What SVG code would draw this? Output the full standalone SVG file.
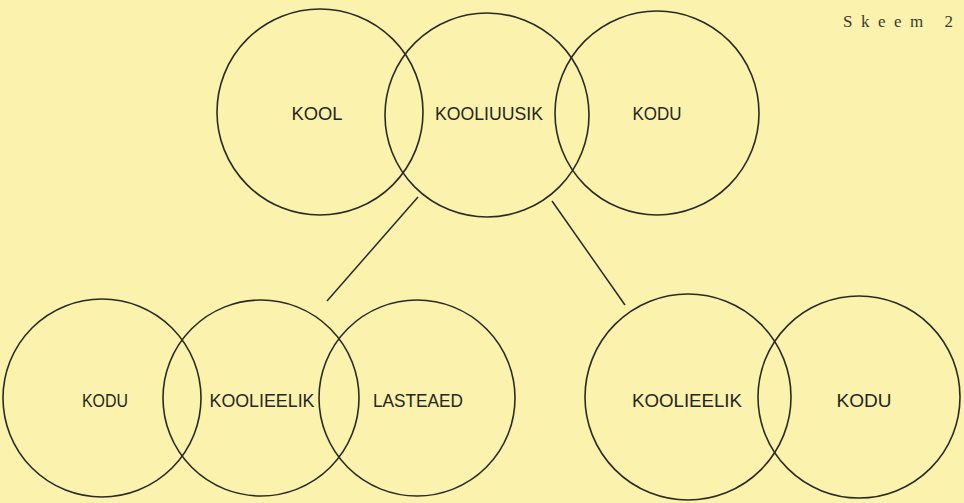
<svg xmlns="http://www.w3.org/2000/svg" width="964" height="503" viewBox="0 0 964 503">
<style>
.c{fill:none;stroke:#2b2a22;stroke-width:1.6}
.t{font-family:"Liberation Sans",Arial,sans-serif;font-size:18px;fill:#26251e;text-anchor:middle}
.ln{stroke:#2b2a22;stroke-width:1.5}
</style>
<rect width="964" height="503" fill="#faf2ad"/>
<text x="843" y="27" font-family="Liberation Serif,serif" font-size="17" letter-spacing="8.5" fill="#3a3a30">Skeem 2</text>
<g id="kool"><circle class="c" cx="320" cy="112" r="103"/><text class="t" x="317" y="120" textLength="51" lengthAdjust="spacingAndGlyphs">KOOL</text></g>
<g id="kooliuusik"><circle class="c" cx="487" cy="115" r="102"/><text class="t" x="489" y="120" textLength="108" lengthAdjust="spacingAndGlyphs">KOOLIUUSIK</text></g>
<g id="kodu1"><circle class="c" cx="657" cy="113" r="102"/><text class="t" x="657" y="120" textLength="49" lengthAdjust="spacingAndGlyphs">KODU</text></g>
<g id="kodu2"><circle class="c" cx="102" cy="398" r="99"/><text class="t" x="105" y="407" textLength="46" lengthAdjust="spacingAndGlyphs">KODU</text></g>
<g id="koolieelik1"><circle class="c" cx="261" cy="398" r="98"/><text class="t" x="262" y="407" textLength="105" lengthAdjust="spacingAndGlyphs">KOOLIEELIK</text></g>
<g id="lasteaed"><circle class="c" cx="417" cy="398" r="98"/><text class="t" x="418" y="407" textLength="90" lengthAdjust="spacingAndGlyphs">LASTEAED</text></g>
<g id="koolieelik2"><circle class="c" cx="688" cy="397" r="103"/><text class="t" x="687" y="407" textLength="110" lengthAdjust="spacingAndGlyphs">KOOLIEELIK</text></g>
<g id="kodu3"><circle class="c" cx="859" cy="397" r="101"/><text class="t" x="864" y="407" textLength="55" lengthAdjust="spacingAndGlyphs">KODU</text></g>
<g id="connectors">
<line class="ln" x1="418" y1="197" x2="327" y2="301"/>
<line class="ln" x1="552" y1="201" x2="625" y2="305"/>
</g>
</svg>
